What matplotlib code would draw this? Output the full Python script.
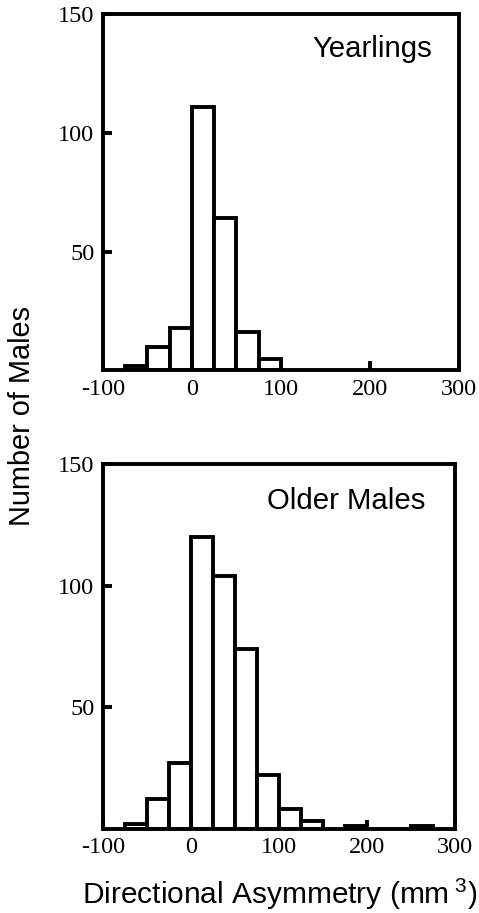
import matplotlib.pyplot as plt

# bin left edges (mm^3), bins 25 wide
bins_yearlings = [-75, -50, -25, 0, 25, 50, 75]
counts_yearlings = [2, 10, 18, 111, 64, 16, 5]

bins_older = [-75, -50, -25, 0, 25, 50, 75, 100, 125, 150, 175, 200, 225, 250]
counts_older = [2, 12, 27, 120, 104, 74, 22, 8, 3, 0, 1, 0, 0, 1]

x_ticks = [-100, 0, 100, 200, 300]
y_ticks = [50, 100, 150]

plt.rcParams['mathtext.default'] = 'regular'
plt.rcParams['axes.unicode_minus'] = False

SANS = 'Liberation Sans'
SERIF = 'Liberation Serif'
LW = 2.8


def draw_panel(ax, bins, counts, label, lx, ly):
    pares = [(b, c) for b, c in zip(bins, counts) if c > 0]
    ax.bar([p[0] for p in pares], [p[1] for p in pares], width=25, align='edge',
           facecolor='white', edgecolor='black', linewidth=LW)
    ax.set_xlim(-100, 300)
    ax.set_ylim(0, 150)
    ax.set_xticks(x_ticks)
    ax.set_yticks(y_ticks)
    ax.tick_params(direction='in', length=6.5, width=LW, pad=6, labelsize=17.5)
    for t in ax.get_xticklabels() + ax.get_yticklabels():
        t.set_fontfamily(SERIF)
    for s in ax.spines.values():
        s.set_linewidth(LW)
        s.set_zorder(5)
    ax.text(lx, ly, label, transform=ax.transAxes, ha='right', va='baseline',
            fontsize=21.2, family=SANS)


fig = plt.figure(figsize=(4.79, 9.13), dpi=100)
ax1 = fig.add_axes([0.2144, 0.5942, 0.7438, 0.3905])
ax2 = fig.add_axes([0.2144, 0.0925, 0.7355, 0.3992])

draw_panel(ax1, bins_yearlings, counts_yearlings, 'Yearlings', 0.925, 0.880)
draw_panel(ax2, bins_older, counts_older, 'Older Males', 0.917, 0.878)

fig.text(0.0453, 0.5445, 'Number of Males', rotation=90, ha='center', va='center',
         fontsize=20.8, family=SANS)
fig.text(0.583, 0.0095, 'Directional Asymmetry (mm$^{\\;3}$)', ha='center', va='baseline',
         fontsize=21.5, family=SANS)

fig.savefig('out.png', dpi=100)
